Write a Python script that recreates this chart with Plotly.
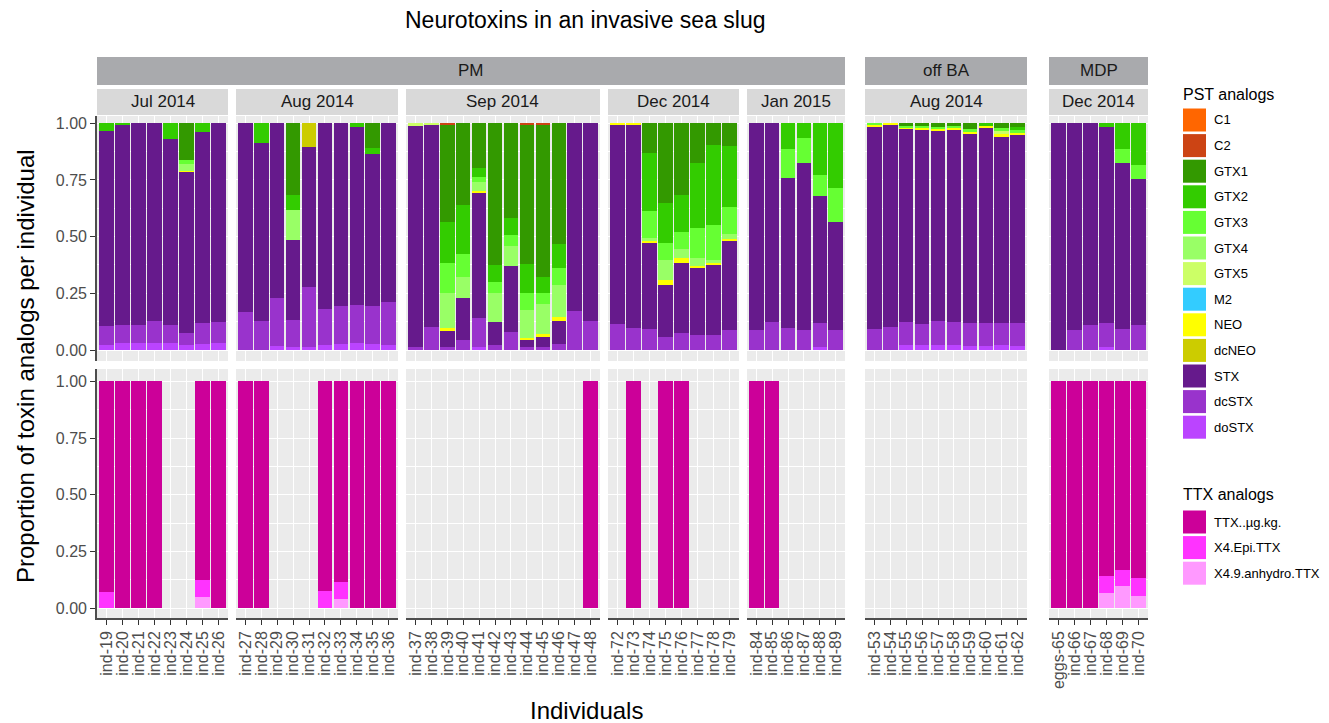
import plotly.graph_objects as go

W, H = 1329, 723

# ---------------- data ----------------
site_groups = ["PM", "PM", "PM", "PM", "PM", "off BA", "MDP"]
months = ["Jul 2014", "Aug 2014", "Sep 2014", "Dec 2014", "Jan 2015", "Aug 2014", "Dec 2014"]
ind_jul14 = ["ind-19", "ind-20", "ind-21", "ind-22", "ind-23", "ind-24", "ind-25", "ind-26"]
ind_aug14 = ["ind-27", "ind-28", "ind-29", "ind-30", "ind-31", "ind-32", "ind-33", "ind-34", "ind-35", "ind-36"]
ind_sep14 = ["ind-37", "ind-38", "ind-39", "ind-40", "ind-41", "ind-42", "ind-43", "ind-44", "ind-45", "ind-46", "ind-47", "ind-48"]
ind_dec14 = ["ind-72", "ind-73", "ind-74", "ind-75", "ind-76", "ind-77", "ind-78", "ind-79"]
ind_jan15 = ["ind-84", "ind-85", "ind-86", "ind-87", "ind-88", "ind-89"]
ind_offba = ["ind-53", "ind-54", "ind-55", "ind-56", "ind-57", "ind-58", "ind-59", "ind-60", "ind-61", "ind-62"]
ind_mdp = ["eggs-65", "ind-66", "ind-67", "ind-68", "ind-69", "ind-70"]
panel_individuals = [ind_jul14, ind_aug14, ind_sep14, ind_dec14, ind_jan15, ind_offba, ind_mdp]

# PST analog proportions (order of individuals: Jul, Aug, Sep, Dec, Jan, off BA, MDP)
doSTX = [.022, .029, .029, .032, .032, .022, .026, .029,
         0, 0, .018, .012, .015, .022, .025, .029, .028, .022,
         0, 0, 0, 0, .015, 0, 0, 0, 0, 0, 0, 0,
         0, 0, 0, 0, 0, 0, 0, 0,
         0, 0, 0, 0, .015, 0,
         0, 0, .022, .021, .022, .022, .019, .019, .022, .018,
         0, 0, 0, .015, 0, 0]
dcSTX = [.084, .081, .081, .097, .080, .054, .092, .095,
         .169, .128, .210, .120, .261, .157, .169, .170, .166, .188,
         .015, .103, .015, .044, .125, .022, .081, .012, .012, .026, .174, .128,
         .115, .097, .093, .059, .074, .066, .066, .088,
         .088, .125, .096, .088, .106, .088,
         .091, .100, .102, .094, .104, .102, .102, .102, .099, .100,
         0, .088, .110, .106, .091, .110]
STX = [.862, .881, .890, .871, .819, .711, .845, .876,
       .831, .784, .772, .353, .621, .821, .806, .786, .671, .790,
       .973, .890, .073, .184, .554, .103, .290, .035, .047, .102, .826, .872,
       .876, .894, .382, .228, .311, .297, .313, .397,
       .912, .875, .661, .738, .558, .477,
       .894, .895, .851, .859, .842, .850, .832, .861, .820, .831,
       1.0, .912, .890, .864, .733, .643]
dcNEO = [0, 0, 0, 0, 0, 0, 0, 0,
         0, 0, 0, 0, .103, 0, 0, 0, 0, 0,
         0, 0, 0, 0, 0, 0, 0, 0, 0, 0, 0, 0,
         0, 0, 0, 0, 0, 0, 0, 0,
         0, 0, 0, 0, 0, 0,
         0, 0, 0, 0, 0, 0, 0, 0, 0, 0,
         0, 0, 0, 0, 0, 0]
NEO = [0, 0, 0, 0, 0, .004, 0, 0,
       0, 0, 0, 0, 0, 0, 0, 0, 0, 0,
       0, 0, .008, 0, .007, 0, 0, .004, .012, .019, 0, 0,
       .009, .009, .007, .022, .022, .008, .004, .005,
       0, 0, 0, 0, 0, 0,
       .008, .005, .006, .004, .008, .004, .007, .008, .010, .007,
       0, 0, 0, 0, 0, 0]
M2 = [0] * 60
GTX5 = [0, 0, 0, 0, 0, 0, 0, 0,
        0, 0, 0, 0, 0, 0, 0, 0, 0, 0,
        .012, .007, 0, 0, 0, 0, 0, 0, 0, 0, 0, 0,
        0, 0, 0, 0, 0, 0, 0, 0,
        0, 0, 0, 0, 0, 0,
        0, 0, 0, 0, 0, 0, 0, 0, .015, 0,
        0, 0, 0, 0, 0, 0]
GTX4 = [0, 0, 0, 0, 0, .028, 0, 0,
        0, 0, 0, .133, 0, 0, 0, 0, 0, 0,
        0, 0, .154, .096, .039, .128, .088, .125, .132, .140, 0, 0,
        0, 0, .011, .088, .037, .036, .014, .020,
        0, 0, 0, 0, 0, 0,
        0, 0, 0, 0, 0, 0, 0, 0, 0, 0,
        0, 0, 0, 0, 0, 0]
GTX3 = [0, 0, 0, 0, 0, .019, 0, 0,
        0, 0, 0, 0, 0, 0, 0, 0, 0, 0,
        0, 0, .135, .100, .025, .048, .048, .077, .047, .076, 0, 0,
        0, 0, .120, .077, .078, .130, .154, .119,
        0, 0, .128, .108, .093, .148,
        .007, 0, .009, .010, .009, .010, .015, 0, .012, .015,
        0, 0, 0, 0, .061, .063]
GTX2 = [.032, .009, 0, 0, .069, 0, .037, 0,
        0, .088, 0, .066, 0, 0, 0, .015, .025, 0,
        0, 0, .181, .216, .036, .074, .074, .126, .074, .105, 0, 0,
        0, 0, .255, .173, .162, .287, .353, .271,
        0, 0, .115, .066, .228, .287,
        0, 0, 0, 0, 0, 0, 0, .010, 0, .012,
        0, 0, 0, .015, .115, .184]
GTX1 = [0, 0, 0, 0, 0, .162, 0, 0,
        0, 0, 0, .316, 0, 0, 0, 0, .110, 0,
        0, 0, .427, .360, .199, .625, .419, .614, .669, .532, 0, 0,
        0, 0, .132, .353, .316, .176, .096, .100,
        0, 0, 0, 0, 0, 0,
        0, 0, .010, .012, .015, .012, .025, 0, .022, .017,
        0, 0, 0, 0, 0, 0]
C2 = [0, 0, 0, 0, 0, 0, 0, 0,
      0, 0, 0, 0, 0, 0, 0, 0, 0, 0,
      0, 0, .007, 0, 0, 0, 0, .007, .007, 0, 0, 0,
      0, 0, 0, 0, 0, 0, 0, 0,
      0, 0, 0, 0, 0, 0,
      0, 0, 0, 0, 0, 0, 0, 0, 0, 0,
      0, 0, 0, 0, 0, 0]
C1 = [0] * 60

# TTX analog proportions
TTX_ugkg = [.930, 1, 1, 1, 0, 0, .875, 1,
            1, 1, 0, 0, 0, .924, .883, 1, 1, 1,
            0, 0, 0, 0, 0, 0, 0, 0, 0, 0, 0, 1,
            0, 1, 0, 1, 1, 0, 0, 0,
            1, 1, 0, 0, 0, 0,
            0, 0, 0, 0, 0, 0, 0, 0, 0, 0,
            1, 1, 1, .858, .831, .868]
X4_Epi_TTX = [.070, 0, 0, 0, 0, 0, .077, 0,
              0, 0, 0, 0, 0, .076, .077, 0, 0, 0,
              0, 0, 0, 0, 0, 0, 0, 0, 0, 0, 0, 0,
              0, 0, 0, 0, 0, 0, 0, 0,
              0, 0, 0, 0, 0, 0,
              0, 0, 0, 0, 0, 0, 0, 0, 0, 0,
              0, 0, 0, .076, .071, .076]
X4_9_anhydro_TTX = [0, 0, 0, 0, 0, 0, .048, 0,
                    0, 0, 0, 0, 0, 0, .040, 0, 0, 0,
                    0, 0, 0, 0, 0, 0, 0, 0, 0, 0, 0, 0,
                    0, 0, 0, 0, 0, 0, 0, 0,
                    0, 0, 0, 0, 0, 0,
                    0, 0, 0, 0, 0, 0, 0, 0, 0, 0,
                    0, 0, 0, .066, .098, .056]

pst_names = ["C1", "C2", "GTX1", "GTX2", "GTX3", "GTX4", "GTX5", "M2", "NEO", "dcNEO", "STX", "dcSTX", "doSTX"]
pst_values = [C1, C2, GTX1, GTX2, GTX3, GTX4, GTX5, M2, NEO, dcNEO, STX, dcSTX, doSTX]
pst_colors = ["#FF6600", "#CC4414", "#339900", "#33CC00", "#66FF33", "#99FF66", "#CCFF66",
              "#33CCFF", "#FFFF00", "#CCCC00", "#661A8C", "#9933CC", "#BB44FF"]
ttx_names = ["TTX..µg.kg.", "X4.Epi.TTX", "X4.9.anhydro.TTX"]
ttx_values = [TTX_ugkg, X4_Epi_TTX, X4_9_anhydro_TTX]
ttx_colors = ["#CC0099", "#FF33FF", "#FF99FF"]

# ---------------- layout geometry (pixels) ----------------
panel_x = [(97, 228), (236, 398), (406, 600), (608, 739), (747, 845), (865, 1027), (1049, 1148)]
top_row = (116, 361)      # panel top/bottom in px
bot_row = (369, 618)
top_range = [-0.0485, 1.032]
bot_range = [-0.0427, 1.054]

FONT = "Liberation Sans, Arial, sans-serif"

def fx(px):
    return px / W

def fy(py):
    return 1 - py / H

fig = go.Figure()

offsets = []
o = 0
for inds in panel_individuals:
    offsets.append(o)
    o += len(inds)

for p, inds in enumerate(panel_individuals):
    s, e = offsets[p], offsets[p] + len(inds)
    xt, yt = f"x{p + 1}", f"y{p + 1}"
    xb, yb = f"x{p + 8}", f"y{p + 8}"
    # PST stacked bottom-to-top (reverse legend order)
    for name, vals, col in reversed(list(zip(pst_names, pst_values, pst_colors))):
        fig.add_trace(go.Bar(x=inds, y=vals[s:e], name=name, marker=dict(color=col, line=dict(width=0)),
                             xaxis=xt, yaxis=yt, showlegend=False))
    for name, vals, col in reversed(list(zip(ttx_names, ttx_values, ttx_colors))):
        fig.add_trace(go.Bar(x=inds, y=vals[s:e], name=name, marker=dict(color=col, line=dict(width=0)),
                             xaxis=xb, yaxis=yb, showlegend=False))

axis_font = dict(family=FONT, size=16, color="#4D4D4D")
layout = {}
for p, inds in enumerate(panel_individuals):
    x0, x1 = panel_x[p]
    n = len(inds)
    for row in (0, 1):
        k = p + 1 + 7 * row
        suffix = "" if k == 1 else str(k)
        r = top_row if row == 0 else bot_row
        layout["xaxis" + suffix] = dict(
            domain=[fx(x0), fx(x1)], anchor="y" + suffix, type="category",
            categoryorder="array", categoryarray=inds, range=[-0.6, n - 0.4],
            tickmode="array", tickvals=inds, ticktext=inds,
            showgrid=True, gridcolor="white", gridwidth=1.4, zeroline=False,
            showticklabels=(row == 1), tickangle=-90, tickfont=axis_font,
            ticks="outside" if row == 1 else "", ticklen=5, tickcolor="#333333", tickwidth=1.2,
            showline=(row == 1), linecolor="#4D4D4D", linewidth=1.6, fixedrange=True,
        )
        layout["yaxis" + suffix] = dict(
            domain=[fy(r[1]), fy(r[0])], anchor="x" + suffix,
            range=top_range if row == 0 else bot_range,
            tickvals=[0, 0.25, 0.5, 0.75, 1.0], tickformat=".2f",
            showgrid=True, gridcolor="white", gridwidth=1.4, zeroline=False,
            minor=dict(tickvals=[0.125, 0.375, 0.625, 0.875], showgrid=True, gridcolor="white", gridwidth=0.7),
            showticklabels=(p == 0), tickfont=axis_font,
            ticks="outside" if p == 0 else "", ticklen=5, tickcolor="#333333", tickwidth=1.2,
            showline=(p == 0), linecolor="#4D4D4D", linewidth=1.6, fixedrange=True,
        )

shapes = []
annotations = []
strip_font = dict(family=FONT, size=17, color="#1A1A1A")

# second-level strips (month)
for p, m in enumerate(months):
    x0, x1 = panel_x[p]
    shapes.append(dict(type="rect", xref="paper", yref="paper", x0=fx(x0), x1=fx(x1), y0=fy(115), y1=fy(89),
                       fillcolor="#D9D9D9", line=dict(width=0), layer="below"))
    annotations.append(dict(text=m, xref="paper", yref="paper", x=fx((x0 + x1) / 2), y=fy(102),
                            showarrow=False, font=strip_font, xanchor="center", yanchor="middle"))

# top-level strips (site)
site_spans = [("PM", 97, 845), ("off BA", 865, 1027), ("MDP", 1049, 1148)]
for name, x0, x1 in site_spans:
    shapes.append(dict(type="rect", xref="paper", yref="paper", x0=fx(x0), x1=fx(x1), y0=fy(85), y1=fy(57),
                       fillcolor="#A9AAAD", line=dict(width=0), layer="below"))
    annotations.append(dict(text=name, xref="paper", yref="paper", x=fx((x0 + x1) / 2), y=fy(71),
                            showarrow=False, font=strip_font, xanchor="center", yanchor="middle"))

# titles
annotations.append(dict(text="Neurotoxins in an invasive sea slug", xref="paper", yref="paper",
                        x=fx(585), y=fy(20), showarrow=False, xanchor="center", yanchor="middle",
                        font=dict(family=FONT, size=23, color="#000000")))
annotations.append(dict(text="Individuals", xref="paper", yref="paper", x=fx(586), y=fy(710),
                        showarrow=False, xanchor="center", yanchor="middle",
                        font=dict(family=FONT, size=24, color="#000000")))
annotations.append(dict(text="Proportion of toxin analogs per individual", xref="paper", yref="paper",
                        x=fx(25), y=fy(366), showarrow=False, xanchor="center", yanchor="middle", textangle=-90,
                        font=dict(family=FONT, size=24, color="#000000")))

# legends (manual keys)
leg_title_font = dict(family=FONT, size=16, color="#000000")
leg_font = dict(family=FONT, size=13, color="#000000")
key_x0, key_x1, label_x = 1183, 1206, 1212
pitch = 25.6

def add_legend(title, title_y, names, colors, first_y):
    annotations.append(dict(text=title, xref="paper", yref="paper", x=fx(1181), y=fy(title_y),
                            showarrow=False, xanchor="left", yanchor="middle", font=leg_title_font))
    for i, (nm, col) in enumerate(zip(names, colors)):
        cy = first_y + i * pitch
        shapes.append(dict(type="rect", xref="paper", yref="paper", x0=fx(key_x0), x1=fx(key_x1),
                           y0=fy(cy + 11.5), y1=fy(cy - 11.5), fillcolor=col, line=dict(width=0)))
        annotations.append(dict(text=nm, xref="paper", yref="paper", x=fx(label_x), y=fy(cy),
                                showarrow=False, xanchor="left", yanchor="middle", font=leg_font))

add_legend("PST analogs", 95, pst_names, pst_colors, 120)
add_legend("TTX analogs", 494, ttx_names, ttx_colors, 522)

fig.update_layout(
    width=W, height=H, autosize=False,
    margin=dict(l=0, r=0, t=0, b=0),
    paper_bgcolor="white", plot_bgcolor="#EBEBEB",
    barmode="stack", bargap=0.1,
    showlegend=False,
    shapes=shapes, annotations=annotations,
    font=dict(family=FONT),
    **layout,
)

fig.write_html("out.html", config={"displayModeBar": False},
               post_script="document.body.style.margin='0px';document.body.style.overflow='hidden';")
